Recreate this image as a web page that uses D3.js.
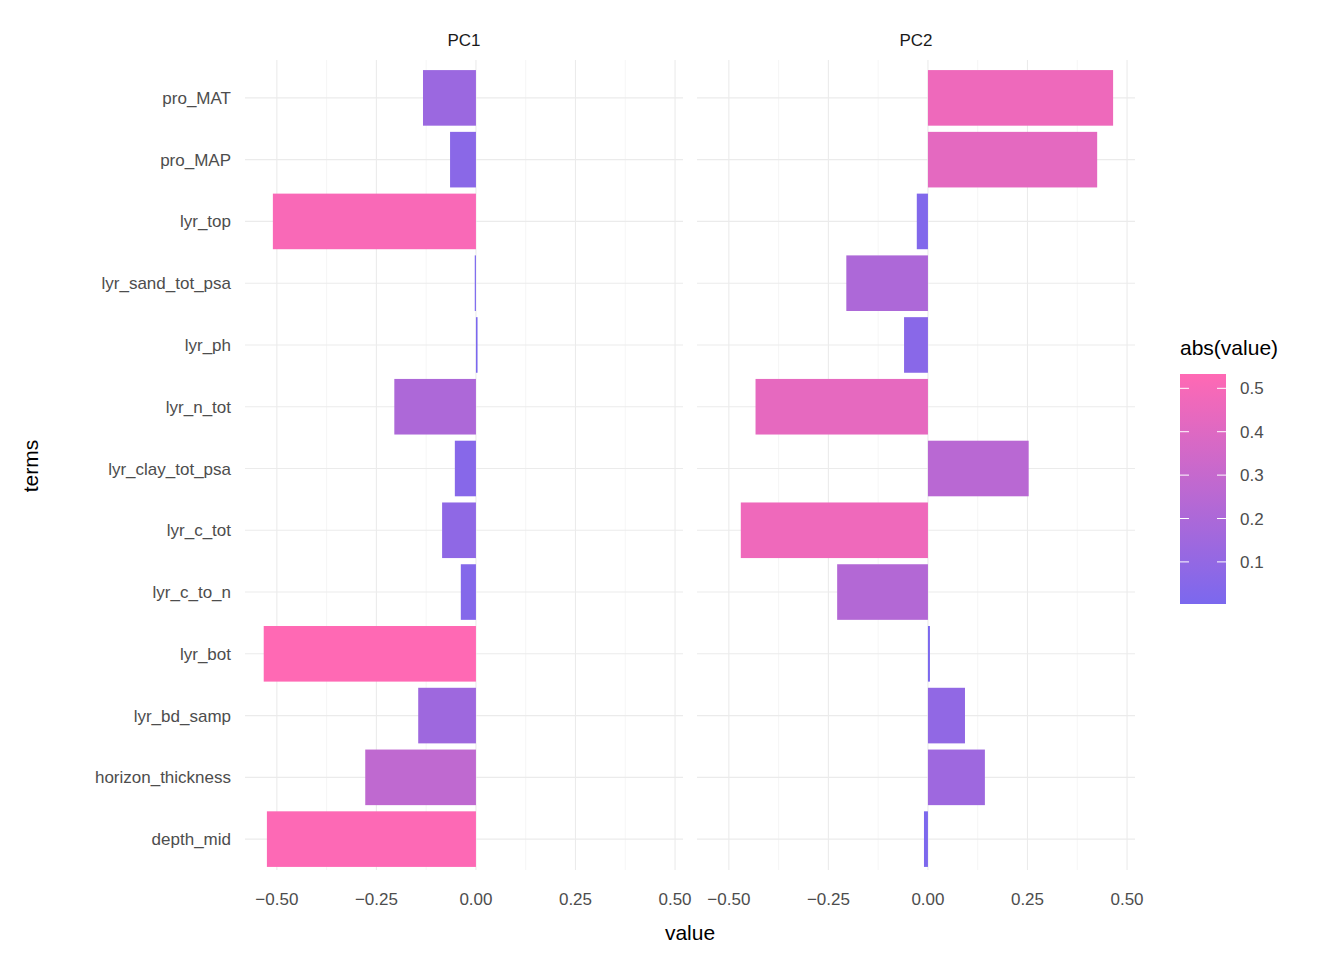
<!DOCTYPE html>
<html><head><meta charset="utf-8">
<script src="https://cdn.jsdelivr.net/npm/d3@7"></script>
<style>body{margin:0;background:#fff}text{font-family:Arial,"Liberation Sans",sans-serif}</style>
</head><body><svg id="c" width="1344" height="960"></svg>
<script>
const terms=["pro_MAT","pro_MAP","lyr_top","lyr_sand_tot_psa","lyr_ph","lyr_n_tot","lyr_clay_tot_psa","lyr_c_tot","lyr_c_to_n","lyr_bot","lyr_bd_samp","horizon_thickness","depth_mid"];
const pc1=[-0.133,-0.065,-0.51,-0.003,0.004,-0.205,-0.053,-0.085,-0.038,-0.533,-0.145,-0.278,-0.525];
const pc2=[0.465,0.425,-0.028,-0.205,-0.06,-0.433,0.253,-0.47,-0.228,0.005,0.093,0.143,-0.01];
const panels=["PC1","PC2"];
const xticks=[-0.5,-0.25,0,0.25,0.5];
const legendTicks=[0.1,0.2,0.3,0.4,0.5];
const svg=d3.select("#c");
const all=pc1.concat(pc2).map(Math.abs);
const cmin=d3.min(all),cmax=d3.max(all);
const col=d3.scaleLinear().domain([cmin,cmax]).range(["#7B68EE","#FF69B4"]).interpolate(d3.interpolateRgb);
const y=d3.scaleBand().domain(terms).range([67,870]).paddingInner(0.1).paddingOuter(0.05);
const prange=[[245,683],[697,1135]];
const xdom=[-0.58,0.52];
[pc1,pc2].forEach((vals,pi)=>{
  const x=d3.scaleLinear().domain(xdom).range(prange[pi]);
  const g=svg.append("g");
  d3.range(-0.625,0.626,0.125).filter(v=>v>=xdom[0]&&v<=xdom[1]).forEach(v=>{
    const major=Math.abs(v/0.25-Math.round(v/0.25))<1e-6;
    g.append("line").attr("x1",x(v)).attr("x2",x(v)).attr("y1",60).attr("y2",870).attr("stroke","#ebebeb").attr("stroke-width",major?1.1:0.5);
  });
  terms.forEach(t=>g.append("line").attr("x1",prange[pi][0]).attr("x2",prange[pi][1]).attr("y1",y(t)+y.bandwidth()/2).attr("y2",y(t)+y.bandwidth()/2).attr("stroke","#ebebeb").attr("stroke-width",1.1));
  g.selectAll("rect.b").data(vals).join("rect").attr("x",d=>x(Math.min(0,d))).attr("width",d=>Math.abs(x(d)-x(0))).attr("y",(d,i)=>y(terms[i])).attr("height",y.bandwidth()).attr("fill",d=>col(Math.abs(d)));
  xticks.forEach(v=>g.append("text").attr("x",x(v)).attr("y",905).attr("text-anchor","middle").attr("font-size",17).attr("fill","#4d4d4d").text(d3.format(".2f")(v)));
  g.append("text").attr("x",(prange[pi][0]+prange[pi][1])/2).attr("y",46).attr("text-anchor","middle").attr("font-size",17).attr("fill","#1a1a1a").text(panels[pi]);
});
terms.forEach(t=>svg.append("text").attr("x",231).attr("y",y(t)+y.bandwidth()/2+6).attr("text-anchor","end").attr("font-size",17).attr("fill","#4d4d4d").text(t));
svg.append("text").attr("x",690).attr("y",940).attr("text-anchor","middle").attr("font-size",21).text("value");
svg.append("text").attr("transform","translate(38,466) rotate(-90)").attr("text-anchor","middle").attr("font-size",21).text("terms");
// legend
svg.append("text").attr("x",1180).attr("y",355).attr("font-size",21).text("abs(value)");
const ly=d3.scaleLinear().domain([cmin,cmax]).range([604,374]);
const grad=svg.append("defs").append("linearGradient").attr("id","lg").attr("x1",0).attr("x2",0).attr("y1",1).attr("y2",0);
grad.append("stop").attr("offset",0).attr("stop-color",col(cmin));
grad.append("stop").attr("offset",1).attr("stop-color",col(cmax));
svg.append("rect").attr("x",1180).attr("y",374).attr("width",46).attr("height",230).attr("fill","url(#lg)");
legendTicks.forEach(v=>{
  svg.append("line").attr("x1",1180).attr("x2",1189).attr("y1",ly(v)).attr("y2",ly(v)).attr("stroke","#fff");
  svg.append("line").attr("x1",1217).attr("x2",1226).attr("y1",ly(v)).attr("y2",ly(v)).attr("stroke","#fff");
  svg.append("text").attr("x",1240).attr("y",ly(v)+6).attr("font-size",17).attr("fill","#4d4d4d").text(v.toFixed(1));
});
</script></body></html>
